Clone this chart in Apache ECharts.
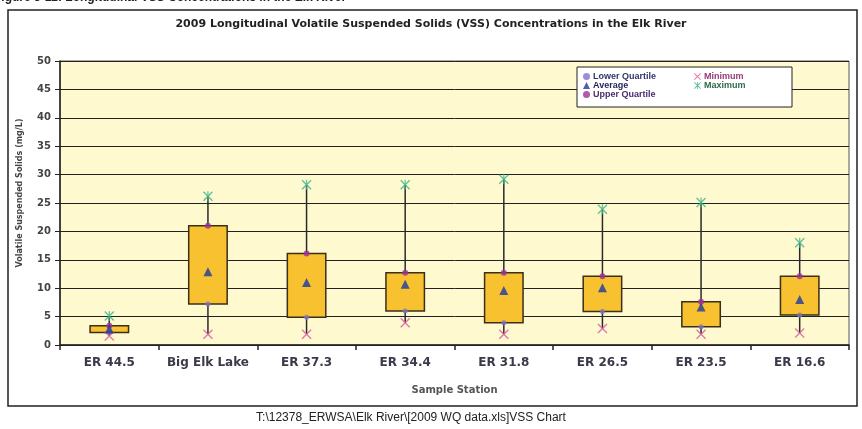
<!DOCTYPE html>
<html>
<head>
<meta charset="utf-8">
<script src="https://cdn.jsdelivr.net/npm/echarts@6/dist/echarts.min.js"></script>
<style>html,body{margin:0;padding:0;background:#fff;}#c{width:862px;height:429px;}</style>
</head>
<body>
<div id="c"></div>
<script>
const categories = ['ER 44.5', 'Big Elk Lake', 'ER 37.3', 'ER 34.4', 'ER 31.8', 'ER 26.5', 'ER 23.5', 'ER 16.6'];
const minimum = [1.6, 1.9, 1.9, 3.9, 1.9, 2.9, 1.9, 2.1];
const lowerQuartile = [2.2, 7.2, 4.9, 6.0, 3.9, 5.9, 3.2, 5.3];
const average = [2.8, 12.9, 11.0, 10.7, 9.6, 10.1, 6.7, 8.0];
const upperQuartile = [3.4, 21.0, 16.1, 12.7, 12.7, 12.1, 7.6, 12.1];
const maximum = [5.1, 26.2, 28.2, 28.2, 29.2, 23.9, 25.1, 18.0];
const yTicks = { min: 0, max: 50, interval: 5 };

const X_PATH = 'path://M0,1L1,0L5,4L9,0L10,1L6,5L10,9L9,10L5,6L1,10L0,9L4,5Z';
const STAR_PATH = 'path://M0,1L1,0L5,4L9,0L10,1L6,5L10,9L9,10L5,6L1,10L0,9L4,5ZM4.4,0L5.6,0L5.6,10L4.4,10Z';

const chart = echarts.init(document.getElementById('c'));
const boxData = categories.map((c, i) => [i, minimum[i], lowerQuartile[i], upperQuartile[i], maximum[i]]);

const legendText = { fontFamily: 'Liberation Sans', fontWeight: 'bold', fontSize: 9, lineHeight: 8.5, padding: [0, 0, 0, -2] };

chart.setOption({
  animation: false,
  title: {
    text: '2009 Longitudinal Volatile Suspended Solids (VSS) Concentrations in the Elk River',
    left: 'center', top: 14,
    textStyle: { fontFamily: 'DejaVu Sans', fontWeight: 'bold', fontSize: 11, color: '#222' }
  },
  graphic: [
    { type: 'text', left: -6, top: -8, z: 10,
      style: { text: 'Figure 3-12: Longitudinal VSS Concentrations in the Elk River', font: 'bold 12px "Liberation Sans"', fill: '#222' } },
    { type: 'rect', shape: { x: 8, y: 10, width: 849, height: 396 }, z: 1,
      style: { fill: 'none', stroke: '#222', lineWidth: 1.5 } },
    { type: 'rect', shape: { x: 577, y: 67, width: 215, height: 40 }, z: 3,
      style: { fill: '#fff', stroke: '#222', lineWidth: 1 } },
    { type: 'text', x: 411, y: 412, z: 10,
      style: { text: 'T:\\12378_ERWSA\\Elk River\\[2009 WQ data.xls]VSS Chart', font: '12px "Liberation Sans"', fill: '#222', textAlign: 'center' } }
  ],
  legend: [
    { orient: 'vertical', left: 583, top: 72, z: 5, itemWidth: 7, itemHeight: 7, itemGap: 0, padding: 0,
      data: [
        { name: 'Lower Quartile', textStyle: { color: '#35356e' } },
        { name: 'Average', textStyle: { color: '#25255a' } },
        { name: 'Upper Quartile', textStyle: { color: '#4a2c6e' } }
      ],
      textStyle: legendText },
    { orient: 'vertical', left: 694, top: 72, z: 5, itemWidth: 7, itemHeight: 7, itemGap: 0, padding: 0,
      data: [
        { name: 'Minimum', textStyle: { color: '#9a3a7a' } },
        { name: 'Maximum', textStyle: { color: '#2c6a4c' } }
      ],
      textStyle: legendText }
  ],
  grid: { left: 60, right: 13, top: 61, bottom: 84, show: true, backgroundColor: '#FEF9CF', borderWidth: 1, borderColor: '#555' },
  xAxis: {
    type: 'category', data: categories, boundaryGap: true,
    name: 'Sample Station', nameLocation: 'middle', nameGap: 40,
    nameTextStyle: { fontFamily: 'DejaVu Sans', fontWeight: 'bold', fontSize: 10, color: '#555' },
    axisLine: { lineStyle: { color: '#222', width: 1.5 } },
    axisTick: { show: true, length: 5, lineStyle: { color: '#222', width: 1.5 } },
    axisLabel: { margin: 12, fontFamily: 'DejaVu Sans', fontWeight: 'bold', fontSize: 12, color: '#3a3a4a', interval: 0 },
    splitLine: { show: false }
  },
  yAxis: {
    type: 'value', min: yTicks.min, max: yTicks.max, interval: yTicks.interval,
    name: 'Volatile Suspended Solids (mg/L)', nameLocation: 'middle', nameGap: 36, nameRotate: 90,
    nameTextStyle: { fontFamily: 'DejaVu Sans', fontWeight: 'bold', fontSize: 8, color: '#444', padding: [0, 0, 0, 20] },
    axisLine: { show: true, lineStyle: { color: '#222', width: 1.5 } },
    axisTick: { show: true, length: 5, lineStyle: { color: '#222' } },
    axisLabel: { margin: 9, fontFamily: 'DejaVu Sans', fontWeight: 'bold', fontSize: 10, color: '#444' },
    splitLine: { show: true, lineStyle: { color: '#222', width: 1 } }
  },
  series: [
    {
      type: 'custom', name: 'box', z: 2,
      data: boxData,
      encode: { x: 0, y: [1, 2, 3, 4] },
      renderItem: function (params, api) {
        const x = api.value(0);
        const mn = api.coord([x, api.value(1)]);
        const lo = api.coord([x, api.value(2)]);
        const hi = api.coord([x, api.value(3)]);
        const mx = api.coord([x, api.value(4)]);
        const w = api.size([1, 0])[0] * 0.39;
        return {
          type: 'group',
          children: [
            { type: 'line', shape: { x1: mn[0], y1: mn[1], x2: mx[0], y2: mx[1] }, style: { stroke: '#2a2a2a', lineWidth: 1.5 } },
            { type: 'rect', shape: { x: lo[0] - w / 2, y: hi[1], width: w, height: lo[1] - hi[1] }, style: { fill: '#F8C12F', stroke: '#3a2f1a', lineWidth: 1.5 } }
          ]
        };
      }
    },
    { type: 'scatter', name: 'Lower Quartile', data: lowerQuartile, z: 3, symbol: 'circle', symbolSize: 5, itemStyle: { color: '#7f74c8' } },
    { type: 'scatter', name: 'Average', data: average, z: 4, symbol: 'triangle', symbolSize: 9, itemStyle: { color: '#1c3aa0' } },
    { type: 'scatter', name: 'Upper Quartile', data: upperQuartile, z: 3, symbol: 'circle', symbolSize: 6, itemStyle: { color: '#a0309a' } },
    { type: 'scatter', name: 'Minimum', data: minimum, z: 3, symbol: X_PATH, symbolSize: 10, itemStyle: { color: '#d85aa0' } },
    { type: 'scatter', name: 'Maximum', data: maximum, z: 3, symbol: STAR_PATH, symbolSize: 10, itemStyle: { color: '#3cb48c' } }
  ]
});
</script>
</body>
</html>
